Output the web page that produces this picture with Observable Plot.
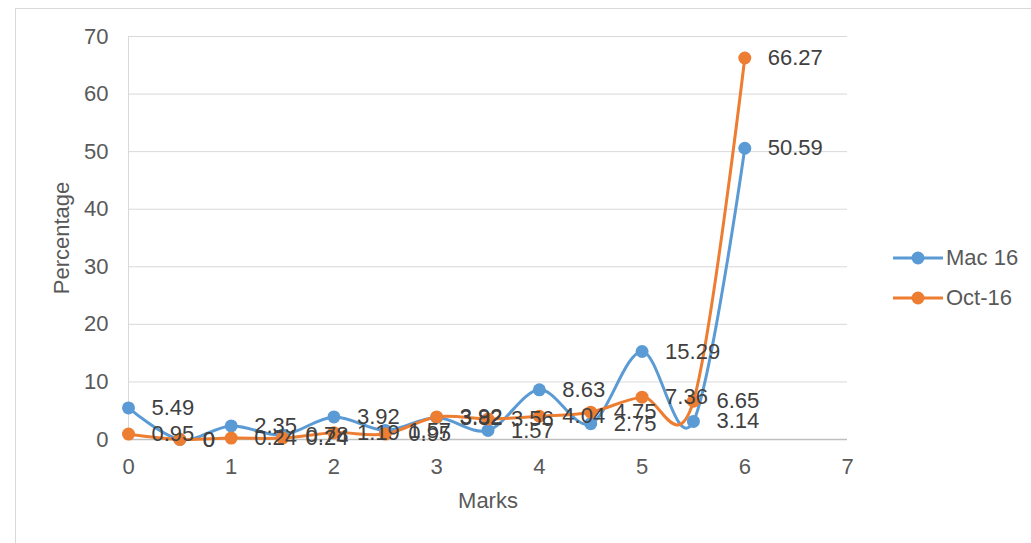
<!DOCTYPE html>
<html>
<head>
<meta charset="utf-8">
<script src="https://cdn.jsdelivr.net/npm/d3@7"></script>
<script src="https://cdn.jsdelivr.net/npm/@observablehq/plot@0.6"></script>
<style>
  html, body { margin: 0; padding: 0; background: #fff; }
  #wrap { position: relative; width: 1031px; height: 543px; overflow: hidden; font-family: "Liberation Sans", Arial, sans-serif; }
  #frame { position: absolute; left: 15px; top: 8px; width: 1100px; height: 600px; border: 1px solid #d9d9d9; box-sizing: border-box; }
  #chart { position: absolute; left: 0; top: 0; }
  #legend { position: absolute; left: 893px; top: 245px; color: #595959; font-size: 22px; }
  .item { display: flex; align-items: center; height: 26px; margin-bottom: 14px; }
  .item span { margin-left: 3px; }
</style>
</head>
<body>
<div id="wrap">
  <div id="frame"></div>
  <div id="chart"></div>
  <div id="legend"></div>
</div>
<script>
const marks = [0, 0.5, 1, 1.5, 2, 2.5, 3, 3.5, 4, 4.5, 5, 5.5, 6];
const mac16 = [5.49, 0, 2.35, 0.78, 3.92, 1.57, 3.82, 1.57, 8.63, 2.75, 15.29, 3.14, 50.59];
const oct16 = [0.95, 0, 0.24, 0.24, 1.19, 0.95, 3.92, 3.56, 4.04, 4.75, 7.36, 6.65, 66.27];
const seriesNames = ["Mac 16", "Oct-16"];
const seriesColors = ["#5B9BD5", "#ED7D31"];
const xTicks = [0, 1, 2, 3, 4, 5, 6, 7];
const yTicks = [0, 10, 20, 30, 40, 50, 60, 70];

const rows = [];
[mac16, oct16].forEach((vals, si) => {
  vals.forEach((v, i) => rows.push({series: seriesNames[si], x: marks[i], y: v}));
});

const textColor = "#595959";

const chart = Plot.plot({
  width: 1031,
  height: 543,
  marginLeft: 128,
  marginRight: 184,
  marginTop: 36,
  marginBottom: 104,
  style: {fontFamily: '"Liberation Sans", Arial, sans-serif', fontSize: "22px", color: textColor, background: "transparent"},
  x: {domain: [0, 7]},
  y: {domain: [0, 70]},
  color: {domain: seriesNames, range: seriesColors},
  marks: [
    Plot.gridY(yTicks.filter(d => d > 0), {stroke: "#d9d9d9", strokeOpacity: 1, strokeWidth: 1}),
    Plot.ruleX([0], {stroke: "#d9d9d9", strokeWidth: 1}),
    Plot.ruleY([0], {stroke: "#bfbfbf", strokeWidth: 1.5}),
    Plot.axisX(xTicks, {tickSize: 0, tickPadding: 19, fontSize: 22, fill: textColor,
      label: "Marks", labelAnchor: "center", labelOffset: 68, labelArrow: "none"}),
    Plot.axisY(yTicks, {tickSize: 0, tickPadding: 20, fontSize: 22, fill: textColor,
      label: "Percentage", labelAnchor: "center", labelOffset: 75, labelArrow: "none"}),
    Plot.line(rows, {x: "x", y: "y", z: "series", stroke: "series", strokeWidth: 3, curve: "cardinal"}),
    Plot.dot(rows, {x: "x", y: "y", fill: "series", r: 6.5}),
    Plot.text(rows, {x: "x", y: "y", text: d => String(d.y), dx: 23, textAnchor: "start", fontSize: 22, fill: "#404040"})
  ]
});
document.getElementById("chart").appendChild(chart);

const legend = document.getElementById("legend");
seriesNames.forEach((name, i) => {
  const item = document.createElement("div");
  item.className = "item";
  item.innerHTML = `<svg width="50" height="14"><line x1="0" y1="7" x2="50" y2="7" stroke="${seriesColors[i]}" stroke-width="3"/><circle cx="25" cy="7" r="6.5" fill="${seriesColors[i]}"/></svg><span>${name}</span>`;
  legend.appendChild(item);
});
</script>
</body>
</html>
